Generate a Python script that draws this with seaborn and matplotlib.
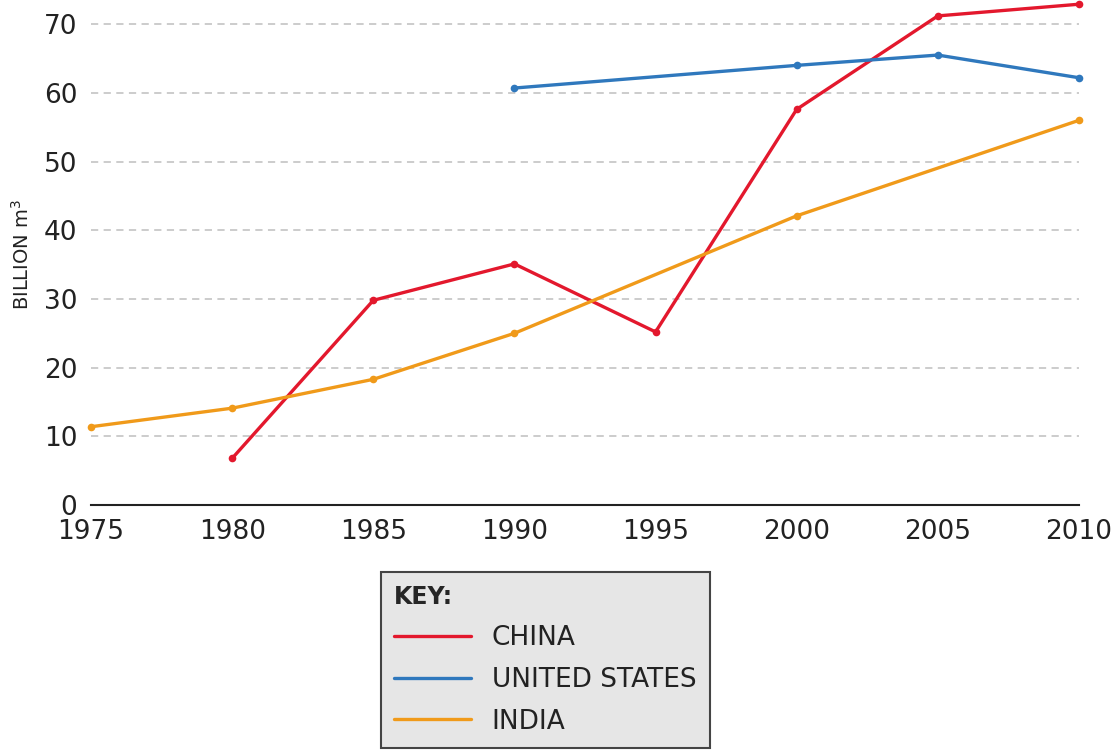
import matplotlib
matplotlib.use("Agg")
import matplotlib.pyplot as plt
import seaborn as sns
import pandas as pd

# values (billion m3)
china_years = [1980, 1985, 1990, 1995, 2000, 2005, 2010]
china_vals = [6.8, 29.8, 35.1, 25.2, 57.6, 71.2, 72.9]
us_years = [1990, 2000, 2005, 2010]
us_vals = [60.7, 64.0, 65.5, 62.2]
india_years = [1975, 1980, 1985, 1990, 2000, 2010]
india_vals = [11.4, 14.1, 18.3, 25.0, 42.1, 56.0]

x_ticks = [1975, 1980, 1985, 1990, 1995, 2000, 2005, 2010]
y_ticks = [0, 10, 20, 30, 40, 50, 60, 70]

df = pd.concat([
    pd.DataFrame({"year": china_years, "value": china_vals, "country": "CHINA"}),
    pd.DataFrame({"year": us_years, "value": us_vals, "country": "UNITED STATES"}),
    pd.DataFrame({"year": india_years, "value": india_vals, "country": "INDIA"}),
])

palette = {"CHINA": "#e3182d", "UNITED STATES": "#2f78bd", "INDIA": "#f09a1a"}

sns.set_style("white")
plt.rcParams["font.family"] = ["DejaVu Sans"]

fig = plt.figure(figsize=(11.13, 7.53), dpi=100)
ax = fig.add_axes([0.0818, 0.3293, 0.8876, 0.666])

sns.lineplot(data=df, x="year", y="value", hue="country", palette=palette,
             marker="o", markersize=5.5, markeredgewidth=0, linewidth=2.4,
             ax=ax, legend=True, clip_on=False)

ax.set_xlim(1975, 2010)
ax.set_ylim(0, 73)
ax.set_xticks(x_ticks)
ax.set_yticks(y_ticks)
ax.tick_params(axis="x", labelsize=19, length=7, width=1.5, color="#222222",
               labelcolor="#222222", pad=3)
ax.tick_params(axis="y", labelsize=19, length=0, pad=10, labelcolor="#222222")
for s in ["top", "right", "left"]:
    ax.spines[s].set_visible(False)
ax.spines["bottom"].set_color("#222222")
ax.spines["bottom"].set_linewidth(1.5)
ax.yaxis.grid(True, linestyle=(0, (4, 3)), color="#c8c8c8", linewidth=1.3)
ax.set_axisbelow(True)
ax.set_xlabel("")
ax.set_ylabel("BILLION m$^3$", fontsize=14, labelpad=8, color="#222222")

handles, labels = ax.get_legend_handles_labels()
ax.get_legend().remove()
for h in handles:
    h.set_marker("")
leg = fig.legend(handles, labels, title="KEY:", loc="upper left",
                 bbox_to_anchor=(381 / 1113, 1 - 572 / 753), borderaxespad=0,
                 fontsize=19, title_fontproperties={"weight": "bold", "size": 17},
                 frameon=True, fancybox=False, facecolor="#e6e6e6",
                 edgecolor="#444444", handlelength=2.9, handletextpad=0.8,
                 borderpad=0.5, labelspacing=0.6, alignment="left")
leg.get_frame().set_linewidth(1.5)
leg.get_frame().set_alpha(1)
for t in leg.get_texts():
    t.set_color("#222222")

fig.savefig("out.png", dpi=100)
